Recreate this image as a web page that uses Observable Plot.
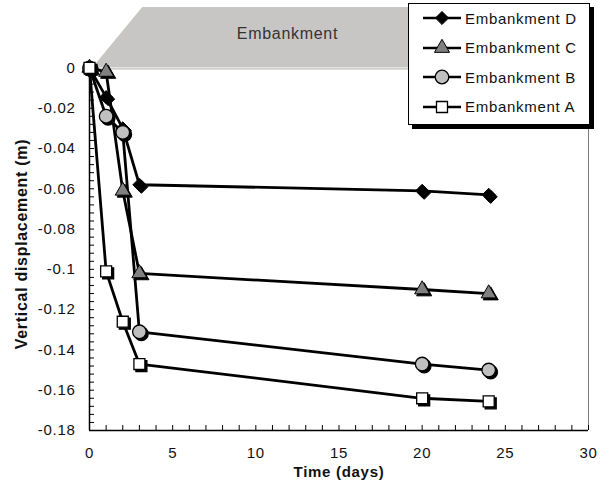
<!DOCTYPE html>
<html>
<head>
<meta charset="utf-8">
<script src="https://cdn.jsdelivr.net/npm/d3@7"></script>
<script src="https://cdn.jsdelivr.net/npm/@observablehq/plot@0.6"></script>
<style>
  html, body { margin: 0; padding: 0; background: #fff; }
  #wrap { position: relative; width: 603px; height: 490px; font-family: "Liberation Sans", Arial, sans-serif; }
  #wrap svg text { letter-spacing: 0.7px; }
  #wrap svg text.ytitle { letter-spacing: 1px; }
  #legend { position: absolute; left: 408px; top: 3px; width: 180px; height: 120px; border: 1px solid #000; background: #fff; box-shadow: 4px 4px 0 #000; }
  .row { position: absolute; left: 0; height: 24px; display: flex; align-items: center; }
  .row svg { display: block; }
  .row span { font-size: 15px; letter-spacing: 0.7px; color: #111; margin-left: 4px; white-space: nowrap; }
</style>
</head>
<body>
<div id="wrap"><div id="legend"></div></div>
<script>
// ---- data ----
const days = [0, 1, 2, 3, 20, 24];
const seriesNames = ["Embankment D", "Embankment C", "Embankment B", "Embankment A"];
const dispD = [0, -0.0145, -0.030, -0.058, -0.061, -0.063];
const dispC = [0, -0.002, -0.061, -0.102, -0.110, -0.112];
const dispB = [0, -0.024, -0.032, -0.131, -0.147, -0.150];
const dispA = [0, -0.101, -0.126, -0.147, -0.164, -0.1655];

// embankment sketch (days, m)
const embankX = [0.2, 3.2, 30];
const embankTop = [0, 0.03, 0.03];
const embankLabel = ["Embankment"];
const embankLabelX = [11.9];
const embankLabelY = [0.017];

// tick labels
const xTicks = [0, 5, 10, 15, 20, 25, 30];
const yTicks = [0, -0.02, -0.04, -0.06, -0.08, -0.1, -0.12, -0.14, -0.16, -0.18];
const xMinor = d3.range(0, 31, 1);
const yMinor = d3.range(0, 46).map(i => -i * 0.004);

const xTitle = "Time (days)";
const yTitle = "Vertical displacement (m)";

// ---- build rows ----
const seriesValues = [dispD, dispC, dispB, dispA];
const rows = [];
seriesNames.forEach((name, i) => days.forEach((d, j) => rows.push({series: name, day: d, disp: seriesValues[i][j]})));

const styles = {
  "Embankment D": {symbol: "diamond2", fill: "#000000", r: 5.9, sw: 1},
  "Embankment C": {symbol: "triangle", fill: "#808080", r: 5.6, sw: 1},
  "Embankment B": {symbol: "circle", fill: "#c0c0c0", r: 6.8, sw: 1.3},
  "Embankment A": {symbol: "square", fill: "#ffffff", r: 6.2, sw: 1.3}
};

const W = 603, H = 490, mL = 89, mR = 15, mT = 7, mB = 60;
const plotW = W - mL - mR, plotH = H - mT - mB;

const marks = [
  Plot.areaY(embankX, {x: embankX, y1: 0, y2: embankTop, fill: "#c8c6c4", curve: "linear"}),
  Plot.ruleY([0], {x1: embankX[0], x2: 30, stroke: "#b0aeac", strokeWidth: 1, dy: 1}),
  Plot.text(embankLabel, {x: embankLabelX, y: embankLabelY, fill: "#333", fontSize: 16}),
  // frame lines
  Plot.ruleX([30], {y1: -0.18, y2: 0.03, stroke: "#7a7a7a", strokeWidth: 1}),
  Plot.ruleX([0], {y1: -0.18, y2: 0, stroke: "#000", strokeWidth: 1.5}),
  Plot.ruleY([-0.18], {x1: 0, x2: 30, stroke: "#000", strokeWidth: 1.5}),
  // inward ticks
  Plot.tickY(yMinor, {y: d => d, stroke: "#000", strokeWidth: 1, insetRight: plotW - 5}),
  Plot.tickX(xMinor, {x: d => d, stroke: "#000", strokeWidth: 1, insetTop: plotH - 5}),
  // tick labels
  Plot.axisY(yTicks, {tickSize: 0, tickPadding: 14, tickFormat: d => String(+d.toFixed(2)), label: null, fill: "#111"}),
  Plot.axisX(xTicks, {tickSize: 0, tickPadding: 17, tickFormat: d => String(d), label: null, fill: "#111"}),
  // titles
  Plot.text([xTitle], {frameAnchor: "bottom", textAnchor: "middle", dy: 46, fontWeight: "bold", fontSize: 15, fill: "#111"}),
  Plot.text([yTitle], {frameAnchor: "left", textAnchor: "middle", rotate: -90, dx: -68, dy: 25, fontWeight: "bold", fontSize: 16, fill: "#111", className: "ytitle"}),
  // lines
  Plot.line(rows, {x: "day", y: "disp", z: "series", stroke: "#000", strokeWidth: 2.8, curve: "linear"})
];

seriesNames.forEach(name => {
  const s = styles[name];
  const data = rows.filter(r => r.series === name);
  marks.push(Plot.dot(data, {x: "day", y: "disp", symbol: () => s.symbol, r: s.r, fill: "#000", stroke: "#000", strokeWidth: s.sw, dx: 2, dy: 2}));
  marks.push(Plot.dot(data, {x: "day", y: "disp", symbol: () => s.symbol, r: s.r, fill: s.fill, stroke: "#000", strokeWidth: s.sw}));
});

const chart = Plot.plot({
  width: W, height: H,
  marginLeft: mL, marginRight: mR, marginTop: mT, marginBottom: mB,
  x: {domain: [0, 30]},
  y: {domain: [-0.18, 0.03]},
  symbol: {type: "identity"},
  style: {fontFamily: '"Liberation Sans", Arial, sans-serif', fontSize: "15px", color: "#000", background: "#fff"},
  marks
});
document.getElementById("wrap").prepend(chart);

// ---- legend ----
const legend = document.getElementById("legend");
const symMap = {diamond2: d3.symbolDiamond2, triangle: d3.symbolTriangle, circle: d3.symbolCircle, square: d3.symbolSquare};
seriesNames.forEach((name, i) => {
  const s = styles[name];
  const row = document.createElement("div");
  row.className = "row";
  row.style.top = (2 + i * 29.5) + "px";
  const size = Math.PI * s.r * s.r;
  const path = d3.symbol(symMap[s.symbol], size)();
  row.innerHTML = `<svg width="52" height="24"><line x1="14" x2="52" y1="12" y2="12" stroke="#000" stroke-width="2.6"/>` +
    `<path d="${path}" transform="translate(33,12)" fill="${s.fill}" stroke="#000" stroke-width="${s.sw}"/></svg><span>${name}</span>`;
  legend.appendChild(row);
});
</script>
</body>
</html>
